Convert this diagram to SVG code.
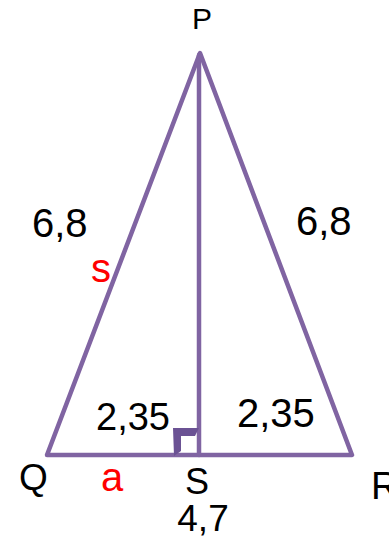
<svg xmlns="http://www.w3.org/2000/svg" width="389" height="540" viewBox="0 0 389 540">
<style>
.edge{stroke:#8064A2;stroke-width:4.5;fill:none;stroke-linejoin:round;stroke-linecap:round}
.lbl{font-family:"Liberation Sans",Arial,sans-serif;fill:#000}
.red{font-family:"Liberation Sans",Arial,sans-serif;fill:#FF0000}
</style>
<rect width="389" height="540" fill="#fff"/>
<g id="connectors">
<path class="edge" d="M47,455 L200,53 L352,455 Z"/>
<path class="edge" d="M199,55 L199,455"/>
</g>
<g id="right-angle">
<polygon points="173,428 199,428 195,436 181,436 181,451 174,456" fill="#6B5294"/>
</g>
<g id="P"><text class="lbl" x="202" y="29" font-size="30" text-anchor="middle">P</text></g>
<g id="Q"><text class="lbl" x="19" y="490" font-size="37">Q</text></g>
<g id="R"><text class="lbl" x="371" y="499" font-size="38">R</text></g>
<g id="S"><text class="lbl" x="197" y="494" font-size="36" text-anchor="middle">S</text></g>
<g id="labels">
<text class="lbl" x="32" y="237" font-size="40">6,8</text>
<text class="lbl" x="296" y="235" font-size="40">6,8</text>
<text class="red" x="91" y="282" font-size="40">s</text>
<text class="lbl" x="96" y="430" font-size="38">2,35</text>
<text class="lbl" x="237" y="427" font-size="40">2,35</text>
<text class="red" x="101" y="491" font-size="40">a</text>
<text class="lbl" x="203" y="531" font-size="37" text-anchor="middle">4,7</text>
</g>
</svg>
